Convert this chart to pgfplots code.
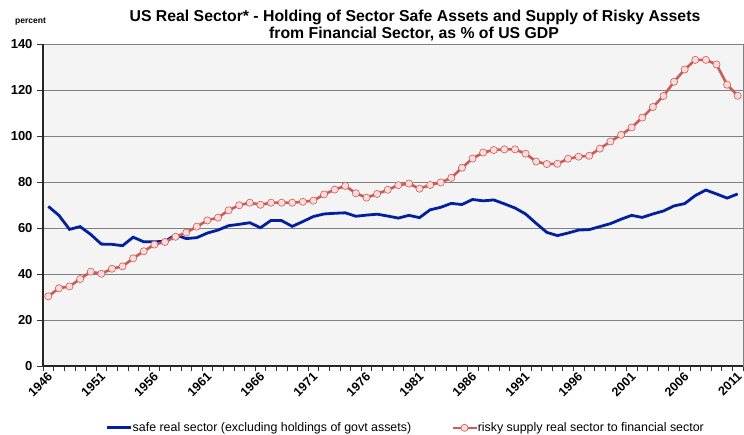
\documentclass[border=0pt]{standalone}
\usepackage{pgfplots}
\pgfplotsset{compat=1.18}
\usepackage{pgfplotstable}
\usepackage{fontspec}
\setmainfont{Liberation Sans}
\definecolor{safeblue}{RGB}{0,32,160}
\definecolor{riskred}{RGB}{204,92,86}
\definecolor{riskfill}{RGB}{250,220,220}
\definecolor{plotbg}{RGB}{244,244,244}
\definecolor{gridgray}{RGB}{128,128,128}

\pgfplotstableread{
year safe risky
1946 69.4 30.3
1947 65.5 33.8
1948 59.4 34.6
1949 60.6 37.8
1950 57.2 41.0
1951 53.0 40.1
1952 52.9 42.3
1953 52.3 43.3
1954 56.0 46.8
1955 54.0 49.9
1956 54.0 52.8
1957 54.2 53.9
1958 57.0 56.2
1959 55.4 58.0
1960 55.8 60.6
1961 57.8 63.3
1962 59.1 64.5
1963 61.0 67.7
1964 61.6 69.9
1965 62.3 71.0
1966 60.1 70.1
1967 63.3 71.0
1968 63.2 71.0
1969 60.7 71.0
1970 62.8 71.4
1971 65.0 71.9
1972 66.1 74.6
1973 66.4 76.7
1974 66.6 78.3
1975 65.1 75.1
1976 65.6 73.2
1977 66.0 74.8
1978 65.2 76.6
1979 64.3 78.6
1980 65.5 79.3
1981 64.5 77.1
1982 67.9 78.7
1983 69.0 79.8
1984 70.7 81.8
1985 70.2 86.2
1986 72.4 90.2
1987 71.8 92.8
1988 72.2 93.9
1989 70.5 94.2
1990 68.7 94.2
1991 66.1 92.3
1992 62.0 88.9
1993 58.1 87.8
1994 56.7 87.9
1995 57.8 90.1
1996 59.1 91.0
1997 59.3 91.4
1998 60.6 94.5
1999 61.9 97.6
2000 63.8 100.5
2001 65.5 103.7
2002 64.6 108.0
2003 66.1 112.6
2004 67.4 117.4
2005 69.6 123.6
2006 70.6 128.9
2007 74.1 133.1
2008 76.5 133.1
2009 74.8 131.1
2010 73.0 122.3
2011 74.8 117.5
}\datatable

\begin{document}
\begin{tikzpicture}
\begin{axis}[
  at={(0pt,0pt)}, anchor=south west,
  scale only axis, width=700pt, height=322pt,
  xmin=1945.5, xmax=2011.5, ymin=0, ymax=140,
  axis background/.style={fill=plotbg},
  axis line style={draw=gridgray, line width=0.6pt},
  xtick pos=bottom, ytick pos=left,
  xtick={1946,1951,1956,1961,1966,1971,1976,1981,1986,1991,1996,2001,2006,2011},
  xticklabels={1946,1951,1956,1961,1966,1971,1976,1981,1986,1991,1996,2001,2006,2011},
  minor xtick={1945.5,1946.5,...,2011.6},
  major x tick style={draw=none},
  minor x tick style={draw=black!80, line width=0.6pt},
  minor tick length=5pt,
  ytick={0,20,...,140},
  major y tick style={draw=black!80, line width=0.8pt},
  major tick length=6pt,
  tick align=outside,
  ymajorgrids,
  y grid style={draw=gridgray, line width=0.8pt},
  /pgf/number format/assume math mode=true,
  yticklabel style={font=\bfseries\fontsize{13}{13}\selectfont, xshift=-1pt},
  xticklabel style={font=\bfseries\fontsize{12.5}{12.5}\selectfont, rotate=45, anchor=east, xshift=3pt, yshift=-3pt},
  legend columns=2,
  legend style={at={(rel axis cs:0.517,-0.192)}, anchor=center, draw=none, fill=none,
    font=\fontsize{12.4}{12.4}\selectfont,
    /tikz/every even column/.append style={column sep=40pt},
    nodes={inner xsep=0pt}},
  legend image code/.code={\draw[mark repeat=2,mark phase=2,#1] plot coordinates {(0pt,0pt) (12pt,0pt) (24pt,0pt)};},
  clip=false,
]
\addplot[safeblue, line width=2.8pt, no markers] table[x=year, y=safe] {\datatable};
\addlegendentry{safe real sector (excluding holdings of govt assets)}
\addplot[riskred, line width=2.6pt, mark=*, mark size=3.6pt,
  mark options={fill=riskfill, draw=riskred, line width=0.6pt}] table[x=year, y=risky] {\datatable};
\addlegendentry{risky supply real sector to financial sector}
\draw[black!85, line width=1.2pt] (rel axis cs:0,0) -- (rel axis cs:0,1);
\draw[black!85, line width=1.2pt] (rel axis cs:0,0) -- (rel axis cs:1,0);
\end{axis}
\node[anchor=base, font=\bfseries\fontsize{15.8}{15.8}\selectfont] at (372pt,344.5pt) {US Real Sector* - Holding of Sector Safe Assets and Supply of Risky Assets};
\node[anchor=base, font=\bfseries\fontsize{15.8}{15.8}\selectfont] at (371pt,327pt) {from Financial Sector, as \% of US GDP};
\node[anchor=base west, inner sep=0pt, font=\bfseries\fontsize{8.5}{8.5}\selectfont] at (-28pt,342pt) {percent};
\pgfresetboundingbox
\path[use as bounding box] (-43pt,-69pt) rectangle (701pt,366pt);
\end{tikzpicture}
\end{document}
